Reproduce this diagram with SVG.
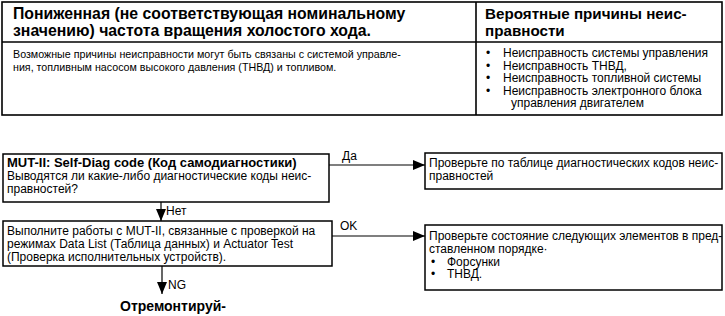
<svg xmlns="http://www.w3.org/2000/svg" width="725" height="316" viewBox="0 0 725 316">
<defs>
<style>
text{font-family:"Liberation Sans",Arial,sans-serif;fill:#000}
.h{font-size:15.8px;font-weight:bold}
.h2{font-size:15.2px;font-weight:bold}
.b{font-size:10.7px}
.t{font-size:12px}
.tb{font-size:13px;font-weight:bold}
.tb2{font-size:14px;font-weight:bold}
.box{fill:#fff;stroke:#000;stroke-width:1.5}
.ln{fill:none;stroke:#000;stroke-width:1.6}
.cn{fill:none;stroke:#000;stroke-width:1.2}
</style>
<marker id="ah" markerWidth="12" markerHeight="10" refX="12" refY="5" orient="auto" markerUnits="userSpaceOnUse">
<path d="M0,0 L12,5 L0,10 Z" fill="#000"/>
</marker>
</defs>
<rect width="725" height="316" fill="#fff"/>
<g id="table">
<rect class="ln" x="2" y="2" width="720" height="113"/>
<line class="ln" x1="2" y1="42" x2="722" y2="42"/>
<line class="ln" x1="476" y1="2" x2="476" y2="115"/>
<text class="h" x="13" y="19">Пониженная (не соответствующая номинальному</text>
<text class="h" x="13" y="36">значению) частота вращения холостого хода.</text>
<text class="b" x="13" y="58">Возможные причины неисправности могут быть связаны с системой управле-</text>
<text class="b" x="13" y="71">ния, топливным насосом высокого давления (ТНВД) и топливом.</text>
<text class="h2" x="485" y="19">Вероятные причины неис-</text>
<text class="h2" x="485" y="36">правности</text>
<g class="t">
<text x="486" y="57">•</text><text x="503" y="57">Неисправность системы управления</text>
<text x="486" y="69.5">•</text><text x="503" y="69.5">Неисправность ТНВД,</text>
<text x="486" y="82">•</text><text x="503" y="82">Неисправность топливной системы</text>
<text x="486" y="94.5">•</text><text x="503" y="94.5">Неисправность электронного блока</text>
<text x="511" y="107">управления двигателем</text>
</g>
</g>
<g id="connectors">
<line class="cn" x1="329" y1="165" x2="425" y2="165" marker-end="url(#ah)"/>
<line class="cn" x1="332" y1="236" x2="425" y2="236" marker-end="url(#ah)"/>
<line class="cn" x1="161" y1="202" x2="161" y2="221" marker-end="url(#ah)"/>
<line class="cn" x1="162" y1="266" x2="162" y2="294" marker-end="url(#ah)"/>
<text class="t" x="342" y="160">Да</text>
<text class="t" x="340" y="230">OK</text>
<text class="t" x="166" y="215">Нет</text>
<text class="t" x="168" y="289">NG</text>
</g>
<g id="n1">
<rect class="box" x="3" y="154" width="326" height="48"/>
<text class="tb" x="7" y="167">MUT-II: Self-Diag code (Код самодиагностики)</text>
<text class="t" x="7" y="180">Выводятся ли какие-либо диагностические коды неис-</text>
<text class="t" x="7" y="193">правностей?</text>
</g>
<g id="n2">
<rect class="box" x="425" y="153" width="297" height="36"/>
<text class="t" x="429" y="167">Проверьте по таблице диагностических кодов неис-</text>
<text class="t" x="429" y="180">правностей</text>
</g>
<g id="n3">
<rect class="box" x="3" y="221" width="329" height="45"/>
<text class="t" x="7" y="235">Выполните работы с MUT-II, связанные с проверкой на</text>
<text class="t" x="7" y="248">режимах Data List (Таблица данных) и Actuator Test</text>
<text class="t" x="7" y="261">(Проверка исполнительных устройств).</text>
</g>
<g id="n4">
<rect class="box" x="425" y="225" width="297" height="65"/>
<text class="t" x="429" y="240">Проверьте состояние следующих элементов в пред-</text>
<text class="t" x="429" y="253">ставленном порядке·</text>
<text class="t" x="431" y="265.5">•</text><text class="t" x="447" y="265.5">Форсунки</text>
<text class="t" x="431" y="278">•</text><text class="t" x="447" y="278">ТНВД.</text>
</g>
<g id="n5">
<text class="tb2" x="120" y="311">Отремонтируй-</text>
</g>
</svg>
